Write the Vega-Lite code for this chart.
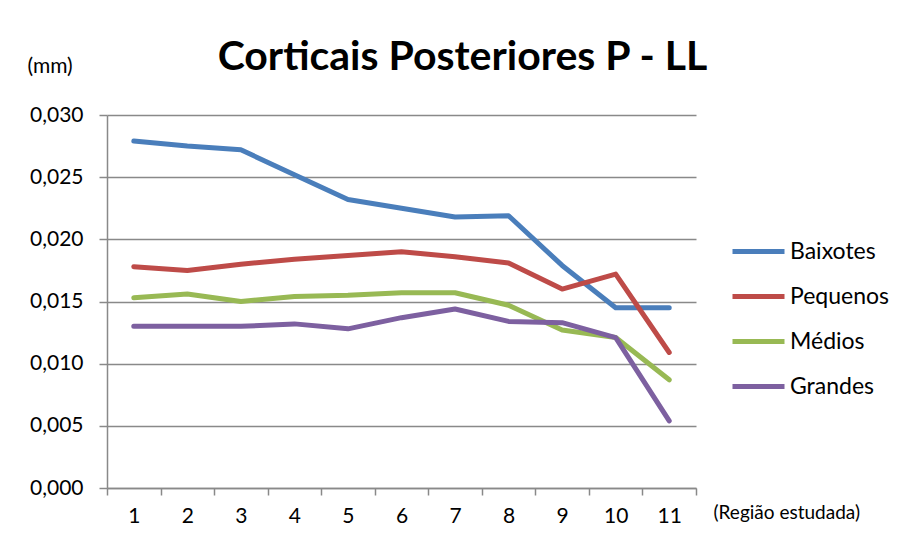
{
  "$schema": "https://vega.github.io/schema/vega-lite/v6.json",
  "autosize": "none",
  "width": 589,
  "height": 373,
  "padding": {"left": 107, "top": 115, "right": 206, "bottom": 56},
  "background": "white",
  "title": {
    "text": "Corticais Posteriores P - LL",
    "font": "Lato",
    "fontSize": 41,
    "fontWeight": "bold",
    "color": "black",
    "anchor": "middle",
    "frame": "group",
    "baseline": "alphabetic",
    "dx": 61,
    "dy": 56,
    "offset": 0
  },
  "config": {
    "view": {"stroke": null},
    "font": "Lato"
  },
  "data": {
    "values": [
      {"regiao": 1, "serie": "Baixotes", "valor": 0.0279},
      {"regiao": 2, "serie": "Baixotes", "valor": 0.0275},
      {"regiao": 3, "serie": "Baixotes", "valor": 0.0272},
      {"regiao": 4, "serie": "Baixotes", "valor": 0.0252},
      {"regiao": 5, "serie": "Baixotes", "valor": 0.0232},
      {"regiao": 6, "serie": "Baixotes", "valor": 0.0225},
      {"regiao": 7, "serie": "Baixotes", "valor": 0.0218},
      {"regiao": 8, "serie": "Baixotes", "valor": 0.0219},
      {"regiao": 9, "serie": "Baixotes", "valor": 0.0179},
      {"regiao": 10, "serie": "Baixotes", "valor": 0.0145},
      {"regiao": 11, "serie": "Baixotes", "valor": 0.0145},
      {"regiao": 1, "serie": "Pequenos", "valor": 0.0178},
      {"regiao": 2, "serie": "Pequenos", "valor": 0.0175},
      {"regiao": 3, "serie": "Pequenos", "valor": 0.0180},
      {"regiao": 4, "serie": "Pequenos", "valor": 0.0184},
      {"regiao": 5, "serie": "Pequenos", "valor": 0.0187},
      {"regiao": 6, "serie": "Pequenos", "valor": 0.0190},
      {"regiao": 7, "serie": "Pequenos", "valor": 0.0186},
      {"regiao": 8, "serie": "Pequenos", "valor": 0.0181},
      {"regiao": 9, "serie": "Pequenos", "valor": 0.0160},
      {"regiao": 10, "serie": "Pequenos", "valor": 0.0172},
      {"regiao": 11, "serie": "Pequenos", "valor": 0.0109},
      {"regiao": 1, "serie": "Médios", "valor": 0.0153},
      {"regiao": 2, "serie": "Médios", "valor": 0.0156},
      {"regiao": 3, "serie": "Médios", "valor": 0.0150},
      {"regiao": 4, "serie": "Médios", "valor": 0.0154},
      {"regiao": 5, "serie": "Médios", "valor": 0.0155},
      {"regiao": 6, "serie": "Médios", "valor": 0.0157},
      {"regiao": 7, "serie": "Médios", "valor": 0.0157},
      {"regiao": 8, "serie": "Médios", "valor": 0.0147},
      {"regiao": 9, "serie": "Médios", "valor": 0.0127},
      {"regiao": 10, "serie": "Médios", "valor": 0.0121},
      {"regiao": 11, "serie": "Médios", "valor": 0.0087},
      {"regiao": 1, "serie": "Grandes", "valor": 0.0130},
      {"regiao": 2, "serie": "Grandes", "valor": 0.0130},
      {"regiao": 3, "serie": "Grandes", "valor": 0.0130},
      {"regiao": 4, "serie": "Grandes", "valor": 0.0132},
      {"regiao": 5, "serie": "Grandes", "valor": 0.0128},
      {"regiao": 6, "serie": "Grandes", "valor": 0.0137},
      {"regiao": 7, "serie": "Grandes", "valor": 0.0144},
      {"regiao": 8, "serie": "Grandes", "valor": 0.0134},
      {"regiao": 9, "serie": "Grandes", "valor": 0.0133},
      {"regiao": 10, "serie": "Grandes", "valor": 0.0121},
      {"regiao": 11, "serie": "Grandes", "valor": 0.0054}
    ]
  },
  "mark": {"type": "line", "strokeWidth": 5, "strokeCap": "round", "strokeJoin": "round"},
  "encoding": {
    "x": {
      "field": "regiao",
      "type": "ordinal",
      "scale": {"type": "band", "paddingInner": 0, "paddingOuter": 0},
      "axis": {
        "title": "(Região estudada)",
        "titleFont": "Lato",
        "titleFontSize": 19,
        "titleFontWeight": "normal",
        "titleColor": "black",
        "titleAlign": "left",
        "titleBaseline": "alphabetic",
        "titleAnchor": null,
        "titleX": 606,
        "titleY": 30,
        "labelAngle": 0,
        "labelFont": "Lato",
        "labelFontSize": 21,
        "labelColor": "black",
        "labelPadding": 10,
        "tickBand": "extent",
        "tickSize": 7,
        "tickColor": "#898989",
        "tickWidth": 1.5,
        "domainColor": "#898989",
        "domainWidth": 1.5,
        "grid": false
      }
    },
    "y": {
      "field": "valor",
      "type": "quantitative",
      "scale": {"domain": [0, 0.03], "nice": false, "zero": true},
      "axis": {
        "values": [0, 0.005, 0.01, 0.015, 0.02, 0.025, 0.03],
        "labelExpr": "replace(format(datum.value, '.3f'), '.', ',')",
        "title": "(mm)",
        "titleAngle": 0,
        "titleFont": "Lato",
        "titleFontSize": 21,
        "titleFontWeight": "normal",
        "titleColor": "black",
        "titleAlign": "left",
        "titleBaseline": "alphabetic",
        "titleAnchor": null,
        "titleX": -80,
        "titleY": -43,
        "labelFont": "Lato",
        "labelFontSize": 21,
        "labelColor": "black",
        "labelPadding": 16,
        "tickSize": 8,
        "tickColor": "#898989",
        "tickWidth": 1.5,
        "domainColor": "#898989",
        "domainWidth": 1.5,
        "grid": true,
        "gridColor": "#898989",
        "gridWidth": 1.5
      }
    },
    "color": {
      "field": "serie",
      "type": "nominal",
      "scale": {
        "domain": ["Baixotes", "Pequenos", "Médios", "Grandes"],
        "range": ["#4A7EBB", "#BE4B48", "#98B954", "#7D60A0"]
      },
      "legend": {
        "title": null,
        "orient": "none",
        "legendX": 623,
        "legendY": 108,
        "padding": 0,
        "symbolType": "stroke",
        "symbolSize": 2704,
        "symbolStrokeWidth": 5,
        "labelFont": "Lato",
        "labelFontSize": 23,
        "labelColor": "black",
        "labelOffset": 3,
        "rowPadding": 4
      }
    }
  }
}
